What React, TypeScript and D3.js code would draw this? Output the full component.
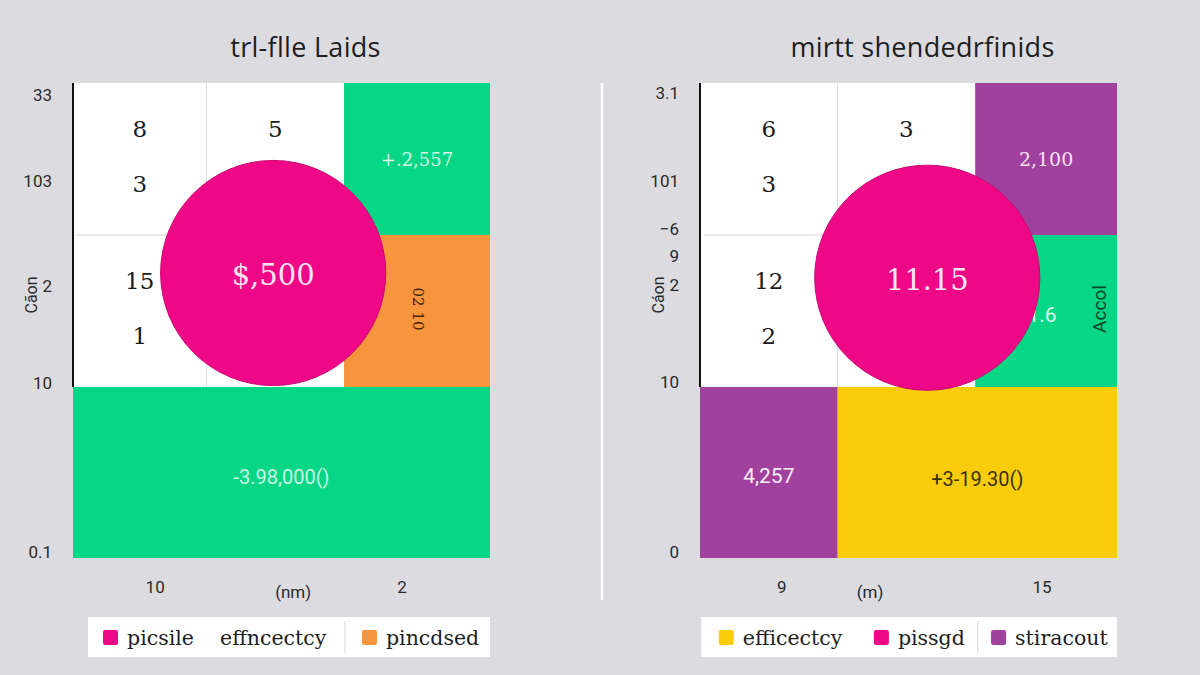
import React from "react";
import * as d3 from "d3";

const WIDTH = 1200;
const HEIGHT = 675;

// ---------- left panel ----------
const leftTitle = "trl-flle Laids";
const leftColShares = [32, 33, 35];
const leftRowShares = [32, 32, 36];
const leftGridLabels = [
  { col: 0, row: 0, lines: ["8", "3"] },
  { col: 1, row: 0, lines: ["5"] },
  { col: 0, row: 1, lines: ["15", "1"] },
];
const leftBlocks = [
  { c0: 2, c1: 3, r0: 0, r1: 1, key: "green", label: "+.2,557", kind: "serifLight" },
  { c0: 2, c1: 3, r0: 1, r1: 2, key: "orange", label: "02 10", kind: "rotDown" },
  { c0: 0, c1: 3, r0: 2, r1: 3, key: "green", label: "-3.98,000()", kind: "sansMint" },
];
const leftBubble = { cx: 48, cy: 40, size: 27, label: "$,500" };
const leftYTicks = ["33", "103", "2", "10", "0.1"];
const leftYTickAt = [2.5, 20.6, 42.7, 63.2, 98.7];
const leftXTicks = ["10", "(nm)", "2"];
const leftXTickAt = [19.7, 52.8, 78.9];
const leftYTitle = "Cãon";
const leftLegend = [
  { key: "pink", label: "picsile    effncectcy" },
  { key: "orange", label: "pincdsed" },
];

// ---------- right panel ----------
const rightTitle = "mirtt shendedrfinids";
const rightColShares = [33, 33, 34];
const rightRowShares = [32, 32, 36];
const rightGridLabels = [
  { col: 0, row: 0, lines: ["6", "3"] },
  { col: 1, row: 0, lines: ["3"] },
  { col: 0, row: 1, lines: ["12", "2"] },
];
const rightBlocks = [
  { c0: 2, c1: 3, r0: 0, r1: 1, key: "purple", label: "2,100", kind: "serifPink" },
  { c0: 2, c1: 3, r0: 1, r1: 2, key: "green", label: "1.6", kind: "sideValue" },
  { c0: 0, c1: 1, r0: 2, r1: 3, key: "purple", label: "4,257", kind: "sansWhite" },
  { c0: 1, c1: 3, r0: 2, r1: 3, key: "yellow", label: "+3-19.30()", kind: "sansDark" },
];
const rightSideNote = "Accol";
const rightBubble = { cx: 54.5, cy: 41, size: 27, label: "11.15" };
const rightYTicks = ["3.1", "101", "\u22126", "9", "2", "10", "0"];
const rightYTickAt = [2.1, 20.6, 30.7, 36.4, 42.5, 62.9, 98.7];
const rightXTicks = ["9", "(m)", "15"];
const rightXTickAt = [19.6, 40.8, 82.0];
const rightYTitle = "Cáon";
const rightLegend = [
  { key: "yellow", label: "efficectcy" },
  { key: "pink", label: "pissgd" },
  { key: "purple", label: "stiracout" },
];

const COLORS: Record<string, string> = {
  green: "#06d685",
  orange: "#f7953f",
  purple: "#a0419d",
  yellow: "#f9cc0c",
  pink: "#ee0786",
};

const SANS = "Roboto, 'Noto Sans', sans-serif";
const SERIF = "'DejaVu Serif', 'Liberation Serif', serif";
const TITLE_FONT = "'Open Sans', 'Noto Sans', sans-serif";

type PanelProps = {
  x0: number;
  x1: number;
  title: string;
  titleShift: number;
  colShares: number[];
  rowShares: number[];
  gridLabels: { col: number; row: number; lines: string[] }[];
  blocks: { c0: number; c1: number; r0: number; r1: number; key: string; label: string; kind: string }[];
  bubble: { cx: number; cy: number; size: number; label: string };
  yTicks: string[];
  yTickAt: number[];
  xTicks: string[];
  xTickAt: number[];
  yTitle: string;
  legend: { key: string; label: string }[];
  legendBox: [number, number];
  legendItemAt: number[];
  legendDividerAt: number;
  sideNote?: string;
};

function Panel(p: PanelProps) {
  const top = 83;
  const bottom = 558;
  const x = d3.scaleLinear().domain([0, 100]).range([p.x0, p.x1]);
  const y = d3.scaleLinear().domain([0, 100]).range([top, bottom]);
  const colEdges = [0, ...d3.cumsum(p.colShares)];
  const rowEdges = [0, ...d3.cumsum(p.rowShares)];
  const cx = (c: number) => (x(colEdges[c]) + x(colEdges[c + 1])) / 2;
  const cy = (r: number) => (y(rowEdges[r]) + y(rowEdges[r + 1])) / 2;

  const whiteX1 = x(colEdges[2]);
  const whiteY1 = y(rowEdges[2]);
  const r = x(p.bubble.size) - x(0);
  const bx = x(p.bubble.cx);
  const by = y(p.bubble.cy);

  const blockText = (b: PanelProps["blocks"][number], i: number) => {
    const mx = (x(colEdges[b.c0]) + x(colEdges[b.c1])) / 2;
    const my = (y(rowEdges[b.r0]) + y(rowEdges[b.r1])) / 2;
    switch (b.kind) {
      case "serifLight":
        return (
          <text key={i} x={mx} y={my} textAnchor="middle" dominantBaseline="central"
            fontFamily={SERIF} fontSize={18} fill="#d4f7e6">{b.label}</text>
        );
      case "serifPink":
        return (
          <text key={i} x={mx} y={my} textAnchor="middle" dominantBaseline="central"
            fontFamily={SERIF} fontSize={19} fill="#f7e2f4">{b.label}</text>
        );
      case "rotDown":
        return (
          <text key={i} transform={`translate(${mx + 1},${my - 2}) rotate(90)`} textAnchor="middle"
            dominantBaseline="central" fontFamily={SERIF} fontSize={15} fill="#4a2205">{b.label}</text>
        );
      case "sansMint":
        return (
          <text key={i} x={mx} y={my + 4} textAnchor="middle" dominantBaseline="central"
            fontFamily={SANS} fontSize={20} fill="#c8f6e4">{b.label}</text>
        );
      case "sansWhite":
        return (
          <text key={i} x={mx} y={my + 3} textAnchor="middle" dominantBaseline="central"
            fontFamily={SANS} fontSize={21} fill="#fbeefb">{b.label}</text>
        );
      case "sansDark":
        return (
          <text key={i} x={mx} y={my + 6} textAnchor="middle" dominantBaseline="central"
            fontFamily={SANS} fontSize={20} fill="#3b3100">{b.label}</text>
        );
      case "sideValue":
        return (
          <text key={i} x={mx - 4} y={my + 4} textAnchor="middle" dominantBaseline="central"
            fontFamily={SANS} fontSize={21} fill="#d9fbef">{b.label}</text>
        );
      default:
        return null;
    }
  };

  const sideBlock = p.blocks.find((b) => b.kind === "sideValue");

  const legendY = 617;
  const legendH = 40;

  return (
    <g>
      <text x={(p.x0 + p.x1) / 2 + p.titleShift} y={46} textAnchor="middle" dominantBaseline="central"
        fontFamily={TITLE_FONT} fontSize={27} letterSpacing={0.3} fill="#1e1e22">{p.title}</text>

      {/* white grid area */}
      <rect x={x(0)} y={top} width={whiteX1 - x(0)} height={whiteY1 - top} fill="#ffffff" />
      <line x1={x(colEdges[1])} x2={x(colEdges[1])} y1={top} y2={whiteY1} stroke="#dedede" strokeWidth={1.2} />
      <line x1={x(0) + 4} x2={whiteX1} y1={y(rowEdges[1])} y2={y(rowEdges[1])} stroke="#d6d6d6" strokeWidth={1.2} />

      {p.gridLabels.map((g, i) =>
        g.lines.map((t, j) => (
          <text key={`${i}-${j}`} x={cx(g.col)} y={cy(g.row) + (j - 0.5) * 55 - 3}
            textAnchor="middle" dominantBaseline="central" fontFamily={SERIF} fontSize={23} fill="#1a1a1a">{t}</text>
        ))
      )}

      {p.blocks.map((b, i) => (
        <rect key={i} x={x(colEdges[b.c0])} y={y(rowEdges[b.r0])}
          width={x(colEdges[b.c1]) - x(colEdges[b.c0])} height={y(rowEdges[b.r1]) - y(rowEdges[b.r0])}
          fill={COLORS[b.key]} />
      ))}
      {p.blocks.map(blockText)}

      {sideBlock && p.sideNote && (
        <text transform={`translate(${x(colEdges[sideBlock.c1]) - 18},${cy(sideBlock.r0) - 2}) rotate(-90)`}
          textAnchor="middle" dominantBaseline="central" fontFamily={SANS} fontSize={19} fill="#0b4a2a">{p.sideNote}</text>
      )}

      {/* bubble */}
      <circle cx={bx} cy={by} r={r} fill={COLORS.pink} stroke="#c80a72" strokeWidth={1} />
      <text x={bx} y={by + 2} textAnchor="middle" dominantBaseline="central" fontFamily={SERIF}
        fontSize={29} fill="#fde4f2">{p.bubble.label}</text>

      {/* y axis */}
      <line x1={x(0)} x2={x(0)} y1={top} y2={whiteY1} stroke="#111" strokeWidth={2} />
      {p.yTicks.map((t, i) => (
        <text key={i} x={x(0) - 21} y={y(p.yTickAt[i])} textAnchor="end" dominantBaseline="central"
          fontFamily={SANS} fontSize={17} fill="#2a2a2a">{t}</text>
      ))}
      <text transform={`translate(${x(0) - 42},${295}) rotate(-90)`} textAnchor="middle"
        dominantBaseline="central" fontFamily={SANS} fontSize={16} fill="#2a2a2a">{p.yTitle}</text>

      {/* x ticks */}
      {p.xTicks.map((t, i) => (
        <text key={i} x={x(p.xTickAt[i])} y={t.startsWith("(") ? 592 : 587} textAnchor="middle"
          dominantBaseline="central" fontFamily={SANS} fontSize={17} fill="#2a2a2a">{t}</text>
      ))}

      {/* legend */}
      <rect x={x(p.legendBox[0])} y={legendY} width={x(p.legendBox[1]) - x(p.legendBox[0])}
        height={legendH} fill="#ffffff" />
      <line x1={x(p.legendDividerAt)} x2={x(p.legendDividerAt)} y1={legendY + 4} y2={legendY + legendH - 4}
        stroke="#d8d8d8" strokeWidth={1} />
      {p.legend.map((d, i) => {
        const sx = x(p.legendItemAt[i]);
        return (
          <g key={i}>
            <rect x={sx} y={legendY + 13} width={15} height={15} rx={2} fill={COLORS[d.key]} />
            <text x={sx + 24} y={legendY + 21} dominantBaseline="central" fontFamily={SERIF}
              fontSize={20.5} fill="#1e1e1e" style={{ whiteSpace: "pre" }}>{d.label}</text>
          </g>
        );
      })}
    </g>
  );
}

export default function App() {
  return (
    <svg width={WIDTH} height={HEIGHT} style={{ position: "absolute", left: 0, top: 0 }}>
      <rect width={WIDTH} height={HEIGHT} fill="#dcdce0" />
      <line x1={602} x2={602} y1={83} y2={600} stroke="#ffffff" strokeWidth={2.5} />
      <Panel x0={73} x1={490} title={leftTitle} titleShift={24} colShares={leftColShares}
        rowShares={leftRowShares} gridLabels={leftGridLabels} blocks={leftBlocks} bubble={leftBubble}
        yTicks={leftYTicks} yTickAt={leftYTickAt} xTicks={leftXTicks} xTickAt={leftXTickAt}
        yTitle={leftYTitle} legend={leftLegend} legendBox={[3.6, 100]} legendItemAt={[7.2, 69.3]}
        legendDividerAt={65.2} />
      <Panel x0={700} x1={1117} title={rightTitle} titleShift={14} colShares={rightColShares}
        rowShares={rightRowShares} gridLabels={rightGridLabels} blocks={rightBlocks} bubble={rightBubble}
        yTicks={rightYTicks} yTickAt={rightYTickAt} xTicks={rightXTicks} xTickAt={rightXTickAt}
        yTitle={rightYTitle} legend={rightLegend} legendBox={[0.3, 100]} legendItemAt={[4.5, 41.7, 69.8]}
        legendDividerAt={66.6} sideNote={rightSideNote} />
    </svg>
  );
}
